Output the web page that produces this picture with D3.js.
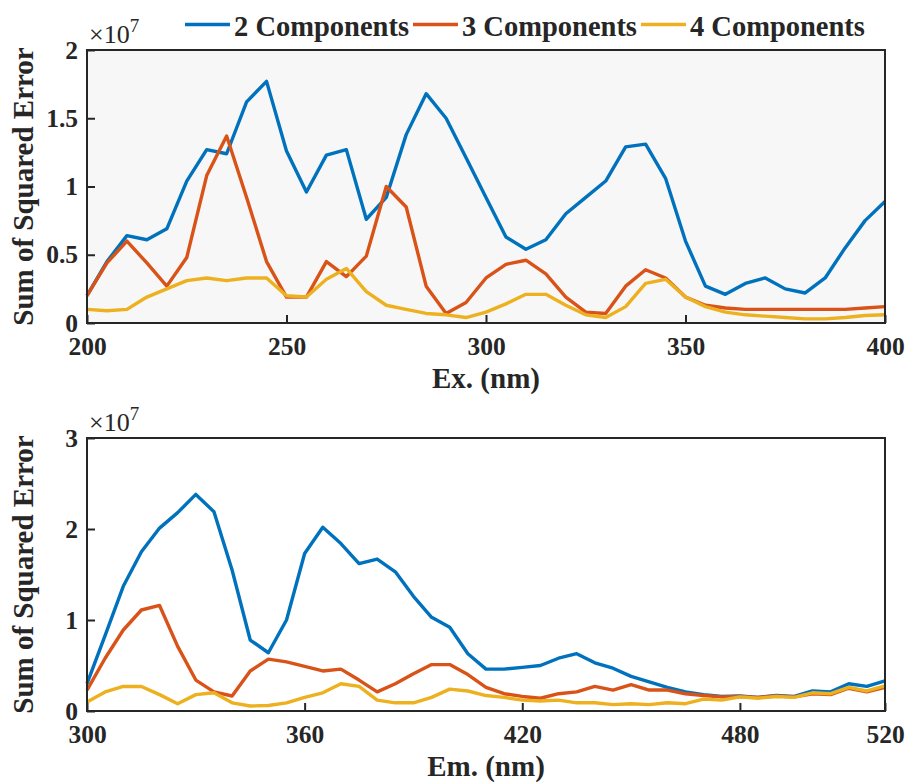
<!DOCTYPE html>
<html>
<head>
<meta charset="utf-8">
<script src="https://cdn.jsdelivr.net/npm/d3@7"></script>
<style>
  body { margin: 0; background: #fff; }
  svg text { font-family: "Liberation Serif", "Times New Roman", serif; fill: #262626; }
</style>
</head>
<body>
<svg id="chart" width="909" height="783"></svg>
<script>
// series names and colours
const seriesNames = ["2 Components", "3 Components", "4 Components"];
const seriesColors = ["#0072BD", "#D95319", "#EDB120"];

// top panel: excitation wavelength (nm), SSE in units of 1e7
const exWavelengths = d3.range(200, 401, 5);
const ex2 = [0.20, 0.45, 0.64, 0.61, 0.69, 1.04, 1.27, 1.24, 1.62, 1.77,
  1.26, 0.96, 1.23, 1.27, 0.76, 0.92, 1.38, 1.68, 1.50, 1.21,
  0.92, 0.63, 0.54, 0.61, 0.80, 0.92, 1.04, 1.29, 1.31, 1.06,
  0.60, 0.27, 0.21, 0.29, 0.33, 0.25, 0.22, 0.33, 0.55, 0.75, 0.89];
const ex3 = [0.20, 0.44, 0.60, 0.44, 0.27, 0.48, 1.08, 1.37, 0.92, 0.45,
  0.19, 0.19, 0.45, 0.34, 0.49, 1.00, 0.85, 0.27, 0.07, 0.15,
  0.33, 0.43, 0.46, 0.36, 0.19, 0.08, 0.07, 0.27, 0.39, 0.33,
  0.19, 0.13, 0.11, 0.10, 0.10, 0.10, 0.10, 0.10, 0.10, 0.11, 0.12];
const ex4 = [0.10, 0.09, 0.10, 0.19, 0.25, 0.31, 0.33, 0.31, 0.33, 0.33,
  0.20, 0.19, 0.32, 0.40, 0.23, 0.13, 0.10, 0.07, 0.06, 0.04,
  0.08, 0.14, 0.21, 0.21, 0.13, 0.06, 0.04, 0.12, 0.29, 0.32,
  0.19, 0.12, 0.08, 0.06, 0.05, 0.04, 0.03, 0.03, 0.04, 0.055, 0.06];
const exXTicks = [200, 250, 300, 350, 400];
const exYTicks = [0, 0.5, 1, 1.5, 2];

// bottom panel: emission wavelength (nm), SSE in units of 1e7
const emWavelengths = d3.range(300, 521, 5);
const em2 = [0.30, 0.83, 1.37, 1.75, 2.01, 2.18, 2.38, 2.19, 1.55, 0.78,
  0.64, 1.00, 1.73, 2.02, 1.84, 1.62, 1.67, 1.53, 1.26, 1.03,
  0.92, 0.63, 0.46, 0.46, 0.48, 0.50, 0.58, 0.63, 0.53, 0.47,
  0.38, 0.32, 0.26, 0.21, 0.18, 0.16, 0.165, 0.15, 0.17, 0.16,
  0.22, 0.21, 0.30, 0.27, 0.33];
const em3 = [0.23, 0.58, 0.89, 1.11, 1.16, 0.71, 0.34, 0.21, 0.165, 0.44,
  0.57, 0.54, 0.49, 0.44, 0.46, 0.34, 0.21, 0.30, 0.41, 0.51,
  0.51, 0.40, 0.26, 0.19, 0.16, 0.14, 0.19, 0.21, 0.27, 0.23,
  0.29, 0.23, 0.23, 0.19, 0.17, 0.155, 0.16, 0.15, 0.165, 0.155,
  0.19, 0.18, 0.25, 0.21, 0.26];
const em4 = [0.10, 0.21, 0.27, 0.27, 0.18, 0.08, 0.18, 0.20, 0.09, 0.055,
  0.06, 0.09, 0.15, 0.20, 0.30, 0.27, 0.12, 0.09, 0.09, 0.15,
  0.24, 0.22, 0.17, 0.15, 0.12, 0.11, 0.12, 0.09, 0.09, 0.07,
  0.08, 0.07, 0.09, 0.08, 0.13, 0.12, 0.155, 0.14, 0.16, 0.15,
  0.20, 0.19, 0.26, 0.22, 0.275];
const emXTicks = [300, 360, 420, 480, 520];
const emYTicks = [0, 1, 2, 3];

const svg = d3.select("#chart");
const frameColor = "#262626";

drawPanel({
  top: 50, bottom: 323, left: 87, right: 885,
  xs: exWavelengths, ys: [ex2, ex3, ex4],
  xDomain: [200, 400], yDomain: [0, 2],
  xTicks: exXTicks, yTicks: exYTicks,
  xLabel: "Ex. (nm)", bg: "#f7f7f7"
});

drawPanel({
  top: 438, bottom: 711, left: 87, right: 885,
  xs: emWavelengths, ys: [em2, em3, em4],
  xDomain: [300, 520], yDomain: [0, 3],
  xTicks: emXTicks, yTicks: emYTicks,
  xLabel: "Em. (nm)", bg: "#ffffff"
});

drawLegend();

function drawPanel(p) {
  const x = d3.scaleLinear().domain(p.xDomain).range([p.left, p.right]);
  const y = d3.scaleLinear().domain(p.yDomain).range([p.bottom, p.top]);

  svg.append("rect")
    .attr("x", p.left).attr("y", p.top)
    .attr("width", p.right - p.left).attr("height", p.bottom - p.top)
    .attr("fill", p.bg);

  const line = d3.line().x((d) => x(d[0])).y((d) => y(d[1]));
  p.ys.forEach((vals, i) => {
    svg.append("path")
      .datum(p.xs.map((v, j) => [v, vals[j]]))
      .attr("fill", "none")
      .attr("stroke", seriesColors[i])
      .attr("stroke-width", 3.4)
      .attr("stroke-linejoin", "round")
      .attr("d", line);
  });

  // X-Axis (ticks point inwards)
  const gx = svg.append("g")
    .attr("transform", `translate(0,${p.bottom})`)
    .call(d3.axisBottom(x).tickValues(p.xTicks).tickFormat(d3.format("d"))
      .tickSize(-8).tickPadding(14));
  styleAxis(gx);

  // Y-Axis
  const gy = svg.append("g")
    .attr("transform", `translate(${p.left},0)`)
    .call(d3.axisLeft(y).tickValues(p.yTicks).tickFormat((d) => String(d))
      .tickSize(-8).tickPadding(9));
  styleAxis(gy);

  // frame
  svg.append("rect")
    .attr("x", p.left).attr("y", p.top)
    .attr("width", p.right - p.left).attr("height", p.bottom - p.top)
    .attr("fill", "none")
    .attr("stroke", frameColor)
    .attr("stroke-width", 2);

  // exponent
  const ex = svg.append("text")
    .attr("x", p.left + 2)
    .attr("y", p.top - 7)
    .style("font-size", "26px");
  ex.append("tspan").text("\u00d710");
  ex.append("tspan").attr("dy", -11).style("font-size", "19px").text("7");

  // X-axis label
  svg.append("text")
    .attr("x", (p.left + p.right) / 2)
    .attr("y", p.bottom + 65)
    .attr("text-anchor", "middle")
    .style("font-size", "29px")
    .style("font-weight", "bold")
    .text(p.xLabel);

  // Y-axis label
  svg.append("text")
    .attr("transform", "rotate(-90)")
    .attr("x", -(p.top + p.bottom) / 2)
    .attr("y", 33)
    .attr("text-anchor", "middle")
    .style("font-size", "29px")
    .style("font-weight", "bold")
    .text("Sum of Squared Error");
}

function styleAxis(g) {
  g.select(".domain").remove();
  g.selectAll(".tick line").attr("stroke", frameColor).attr("stroke-width", 2);
  g.selectAll(".tick text")
    .attr("fill", frameColor)
    .style("font-family", "'Liberation Serif', 'Times New Roman', serif")
    .style("font-size", "25.5px")
    .style("font-weight", "bold");
}

function drawLegend() {
  let cx = 185;
  seriesNames.forEach((name, i) => {
    svg.append("line")
      .attr("x1", cx).attr("x2", cx + 45)
      .attr("y1", 24.5).attr("y2", 24.5)
      .attr("stroke", seriesColors[i])
      .attr("stroke-width", 3.4);
    const t = svg.append("text")
      .attr("x", cx + 49)
      .attr("y", 36)
      .style("font-size", "28.5px")
      .style("font-weight", "bold")
      .text(name);
    cx += 49 + t.node().getComputedTextLength() + 4;
  });
}
</script>
</body>
</html>
